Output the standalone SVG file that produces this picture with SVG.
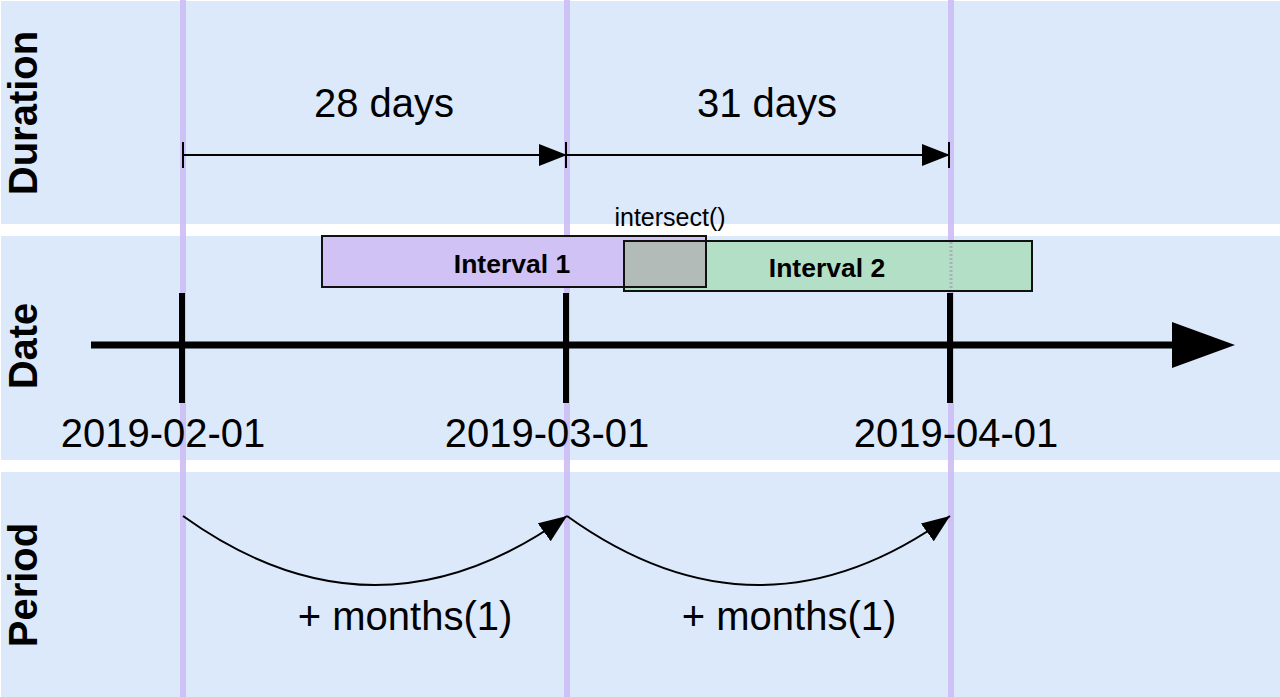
<svg xmlns="http://www.w3.org/2000/svg" width="1280" height="697" viewBox="0 0 1280 697">
<style>
.band{fill:#dce9fb}
.vline{stroke:#cdbdf5;stroke-width:6;opacity:0.9}
.lbl{font-family:"Liberation Sans",Arial,sans-serif;font-weight:bold;font-size:40px;fill:#000}
.t40{font-family:"Liberation Sans",Arial,sans-serif;font-size:40px;fill:#000;text-anchor:middle}
.t26{font-family:"Liberation Sans",Arial,sans-serif;font-size:25px;fill:#000;text-anchor:middle}
.b26{font-family:"Liberation Sans",Arial,sans-serif;font-weight:bold;font-size:26.5px;fill:#000;text-anchor:middle}
.thin{stroke:#000;stroke-width:2;fill:none}
.tick{stroke:#000;stroke-width:6}
.box{fill:none;stroke:#111;stroke-width:2}
</style>
<defs>
<marker id="ah" markerUnits="userSpaceOnUse" markerWidth="30" markerHeight="24" refX="28" refY="11" orient="auto">
<path d="M0,0 L28,11 L0,22 Z" fill="#000"/>
</marker>
</defs>
<rect width="1280" height="697" fill="#ffffff"/>
<g id="bands">
<rect class="band" x="1" y="1" width="1279" height="223"/>
<rect class="band" x="1" y="236" width="1279" height="224"/>
<rect class="band" x="1" y="472" width="1279" height="225"/>
</g>
<g id="lanes">
<text class="lbl" transform="translate(37,113) rotate(-90)" text-anchor="middle">Duration</text>
<text class="lbl" transform="translate(37,346) rotate(-90)" text-anchor="middle">Date</text>
<text class="lbl" transform="translate(37,585) rotate(-90)" text-anchor="middle">Period</text>
</g>
<g id="guides">
<line class="vline" x1="183" y1="0" x2="183" y2="697"/>
<line class="vline" x1="567" y1="0" x2="567" y2="697"/>
<line class="vline" x1="951" y1="0" x2="951" y2="697"/>
</g>
<g id="intervals">
<g id="interval1">
<rect x="322" y="236" width="384" height="51" fill="#d1c2f5"/>
</g>
<g id="interval2">
<rect x="624" y="241" width="408" height="50" fill="#b3dfc6"/>
<line x1="951" y1="242" x2="951" y2="290" stroke="#a9b0b8" stroke-width="3" stroke-dasharray="2,2"/>
</g>
<g id="intersect">
<rect x="625" y="241" width="81" height="46" fill="#b3bbb9"/>
</g>
<rect class="box" x="322" y="236" width="384" height="51"/>
<rect class="box" x="624" y="241" width="408" height="50"/>
<text class="b26" x="512" y="273">Interval 1</text>
<text class="b26" x="827" y="277">Interval 2</text>
<text class="t26" x="670" y="226">intersect()</text>
</g>
<g id="connectors">
<line class="thin" x1="183" y1="155" x2="567" y2="155" marker-end="url(#ah)"/>
<line class="thin" x1="567" y1="155" x2="950" y2="155" marker-end="url(#ah)"/>
<line class="thin" x1="183" y1="142" x2="183" y2="168"/>
<line class="thin" x1="566" y1="142" x2="566" y2="168"/>
<line class="thin" x1="949" y1="142" x2="949" y2="168"/>
<line x1="91" y1="345" x2="1176" y2="345" stroke="#000" stroke-width="7"/>
<path d="M1172,322 L1235,345 L1172,368 Z" fill="#000"/>
<line class="tick" x1="182" y1="293" x2="182" y2="403"/>
<line class="tick" x1="566" y1="293" x2="566" y2="403"/>
<line class="tick" x1="950" y1="293" x2="950" y2="403"/>
<path class="thin" d="M183,516 Q375,654 567,516" marker-end="url(#ah)"/>
<path class="thin" d="M567,516 Q759,654 950,516" marker-end="url(#ah)"/>
</g>
<g id="labels">
<text class="t40" x="384" y="117">28 days</text>
<text class="t40" x="767" y="117">31 days</text>
<text class="t40" x="163" y="447">2019-02-01</text>
<text class="t40" x="547" y="447">2019-03-01</text>
<text class="t40" x="956" y="447">2019-04-01</text>
<text class="t40" x="405" y="630">+ months(1)</text>
<text class="t40" x="789" y="630">+ months(1)</text>
</g>
</svg>
